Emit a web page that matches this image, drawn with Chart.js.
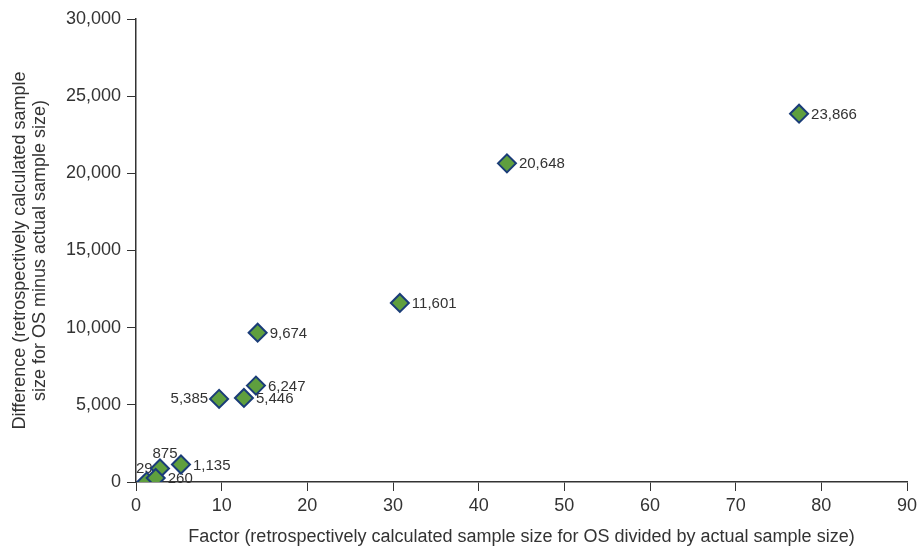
<!DOCTYPE html>
<html>
<head>
<meta charset="utf-8">
<script src="https://cdn.jsdelivr.net/npm/chart.js@4.4.0/dist/chart.umd.min.js"></script>
<style>
  html, body { margin: 0; padding: 0; background: #fff; }
  #wrap { width: 918px; height: 548px; }
</style>
</head>
<body>
<div id="wrap"><canvas id="myChart"></canvas></div>
<script>
// values
const factor = [77.4, 43.3, 30.8, 14.2, 14.0, 12.6, 9.7, 5.25, 2.8, 1.25, 2.3];
const difference = [23866, 20648, 11601, 9674, 6247, 5446, 5385, 1135, 875, 29, 260];
// where each point label sits
const labelSide = ['right', 'right', 'right', 'right', 'right', 'right', 'left', 'right', 'top', 'upleft', 'right'];

const xTicks = [0, 10, 20, 30, 40, 50, 60, 70, 80, 90];
const yTicks = [0, 5000, 10000, 15000, 20000, 25000, 30000];

const points = factor.map((f, i) => ({ x: f, y: difference[i] }));

const axisColor = '#333333';
const fontFam = '"Liberation Sans", Arial, sans-serif';

// draw the number next to each diamond (before the points, so diamonds sit on top)
const pointLabels = {
    id: 'pointLabels',
    beforeDatasetsDraw(chart) {
        const ctx = chart.ctx;
        const meta = chart.getDatasetMeta(0);
        ctx.save();
        ctx.font = '15px ' + fontFam;
        ctx.fillStyle = axisColor;
        ctx.textBaseline = 'middle';
        meta.data.forEach((pt, i) => {
            const txt = difference[i].toLocaleString('en-US');
            const side = labelSide[i];
            if (side === 'left') {
                ctx.textAlign = 'right';
                ctx.fillText(txt, pt.x - 11, pt.y);
            } else if (side === 'upleft') {
                ctx.textAlign = 'right';
                ctx.fillText(txt, pt.x + 6, pt.y - 13);
            } else if (side === 'top') {
                ctx.textAlign = 'center';
                ctx.fillText(txt, pt.x + 5, pt.y - 15);
            } else {
                ctx.textAlign = 'left';
                ctx.fillText(txt, pt.x + 12, pt.y + 1);
            }
        });
        ctx.restore();
    }
};

const chart = new Chart(document.getElementById('myChart'), {
    type: 'scatter',
    data: {
        datasets: [{
            data: points,
            pointStyle: 'rectRot',
            pointRadius: 9,
            pointHoverRadius: 9,
            backgroundColor: '#5f9f3e',
            borderColor: '#1a3c78',
            borderWidth: 2
        }]
    },
    options: {
        responsive: true,
        maintainAspectRatio: false,
        animation: false,
        layout: { padding: { top: 19, right: 11, left: 0, bottom: 0 } },
        plugins: {
            legend: { display: false },
            tooltip: { enabled: false }
        },
        scales: {
            x: {
                type: 'linear',
                min: 0,
                max: 90,
                afterBuildTicks: (s) => { s.ticks = xTicks.map(v => ({ value: v })); },
                afterFit: (s) => { s.height = 66; s.paddingRight = 0; s.paddingLeft = 0; },
                grid: { drawOnChartArea: false, drawTicks: true, tickLength: 9, color: axisColor },
                border: { color: axisColor, width: 1.5 },
                ticks: { color: axisColor, font: { size: 18, family: fontFam }, padding: 4, maxRotation: 0 },
                title: {
                    display: true,
                    text: 'Factor (retrospectively calculated sample size for OS divided by actual sample size)',
                    color: axisColor,
                    font: { size: 18, family: fontFam },
                    padding: { top: 1, bottom: 0 }
                }
            },
            y: {
                type: 'linear',
                min: 0,
                max: 30000,
                afterBuildTicks: (s) => { s.ticks = yTicks.map(v => ({ value: v })); },
                afterFit: (s) => { s.width = 136; },
                grid: { drawOnChartArea: false, drawTicks: true, tickLength: 9, color: axisColor },
                border: { color: axisColor, width: 1.5 },
                ticks: {
                    color: axisColor,
                    font: { size: 18, family: fontFam },
                    padding: 6,
                    callback: (v) => v.toLocaleString('en-US')
                },
                title: {
                    display: true,
                    text: ['Difference (retrospectively calculated sample', 'size for OS minus actual sample size)'],
                    color: axisColor,
                    font: { size: 18, family: fontFam, lineHeight: 1.1 },
                    padding: { top: 10, bottom: 0 }
                }
            }
        }
    },
    plugins: [pointLabels]
});
</script>
</body>
</html>
